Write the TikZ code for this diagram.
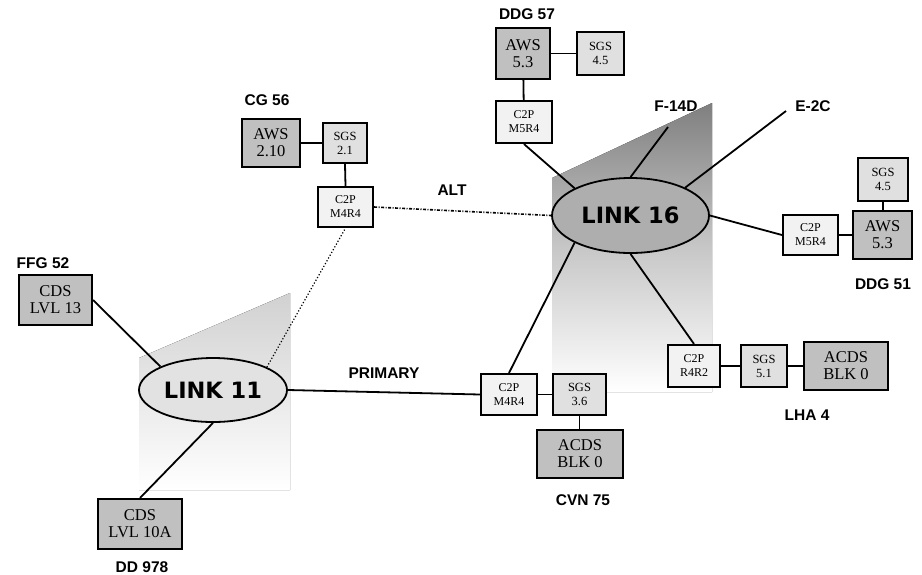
\documentclass[tikz,border=0pt]{standalone}
\usepackage{fontspec}
\setmainfont{Liberation Serif}
\newfontfamily\labelfont{Liberation Sans}
\newfontfamily\linkfont{DejaVu Sans}
\usetikzlibrary{shapes.geometric}
\definecolor{unitfill}{HTML}{C0C0C0}
\definecolor{sgsfill}{HTML}{E0E0E0}
\definecolor{cpfill}{HTML}{F2F2F2}
\definecolor{netdark}{HTML}{AEAEAE}
\definecolor{netlight}{HTML}{E2E2E2}
\tikzset{
  box/.style={draw, line width=2.1pt, inner sep=0pt, align=center},
  unit/.style={box, fill=unitfill, font=\fontsize{16.5}{17}\selectfont},
  sgs/.style={box, fill=sgsfill, font=\fontsize{12.5}{14}\selectfont},
  cpbox/.style={box, fill=cpfill, font=\fontsize{12}{14}\selectfont},
  net/.style={ellipse, draw, line width=1.8pt, inner sep=0pt,
    font=\linkfont\bfseries\fontsize{22.5}{24}\selectfont},
  tag/.style={font=\labelfont\bfseries\fontsize{15.5}{17}\selectfont, inner sep=0pt},
  wire/.style={line width=1.8pt},
}
\begin{document}
\begin{tikzpicture}[x=1pt, y=-1pt]
\useasboundingbox (0,0) rectangle (922,574);

% shaded backdrops behind the two networks
\fill[top color=black!50, bottom color=white, middle color=black!22]
  (552,178) -- (712,103) -- (712,392) -- (552,392) -- cycle;
\fill[top color=black!18, bottom color=white]
  (139,358) -- (290,293) -- (290,490) -- (139,490) -- cycle;

% networks
\node[net, fill=netdark, minimum width=157pt, minimum height=75pt] (l16) at (630.5,215.5) {LINK 16};
\node[net, fill=netlight, minimum width=148pt, minimum height=64pt] (l11) at (213,390) {LINK 11};

% DDG 57
\node[unit, minimum width=54pt, minimum height=51pt] (aws57) at (523,53.5) {AWS\\5.3};
\node[sgs, minimum width=47pt, minimum height=43pt] (sgs57) at (600.5,53.5) {SGS\\4.5};
\node[cpbox, minimum width=56pt, minimum height=42pt] (cp57) at (524,122) {C2P\\M5R4};
\node[tag] (t57) at (527,14) {DDG 57};

% CG 56
\node[unit, minimum width=58pt, minimum height=48pt] (aws56) at (271,143) {AWS\\2.10};
\node[sgs, minimum width=44pt, minimum height=40pt] (sgs56) at (345,143) {SGS\\2.1};
\node[cpbox, minimum width=55pt, minimum height=40pt] (cp56) at (345.5,207) {C2P\\M4R4};
\node[tag] (t56) at (267,100) {CG 56};

% DDG 51
\node[sgs, minimum width=50pt, minimum height=43pt] (sgs51) at (883,179.5) {SGS\\4.5};
\node[unit, minimum width=59pt, minimum height=48pt] (aws51) at (882.5,235) {AWS\\5.3};
\node[cpbox, minimum width=55pt, minimum height=40pt] (cp51) at (810.5,235) {C2P\\M5R4};
\node[tag] (t51) at (883,284) {DDG 51};

% LHA 4
\node[cpbox, minimum width=52pt, minimum height=42pt] (cp4) at (694,366) {C2P\\R4R2};
\node[sgs, minimum width=46pt, minimum height=42pt] (sgs4) at (764,366) {SGS\\5.1};
\node[unit, minimum width=84pt, minimum height=48pt] (acds4) at (846,366) {ACDS\\BLK 0};
\node[tag] (t4) at (807,415) {LHA 4};

% CVN 75
\node[cpbox, minimum width=56pt, minimum height=41pt] (cp75) at (509,394.5) {C2P\\M4R4};
\node[sgs, minimum width=53pt, minimum height=41pt] (sgs75) at (579.5,394.5) {SGS\\3.6};
\node[unit, minimum width=86pt, minimum height=48pt] (acds75) at (580,454) {ACDS\\BLK 0};
\node[tag] (t75) at (583,500) {CVN 75};

% FFG 52 and DD 978
\node[unit, minimum width=73pt, minimum height=50pt] (cds52) at (55.5,300) {CDS\\LVL 13};
\node[tag] (t52) at (43,263) {FFG 52};
\node[unit, minimum width=84pt, minimum height=50pt] (cds978) at (140,524) {CDS\\LVL 10A};
\node[tag] (t978) at (142,567) {DD 978};

% aircraft and link labels
\node[tag] (tf14) at (676,106) {F-14D};
\node[tag] (te2c) at (813,106) {E-2C};
\node[tag] (tprim) at (384,373) {PRIMARY};
\node[tag] (talt) at (452,190) {ALT};
\coordinate (f14) at (668,127);
\coordinate (e2c) at (786,111);

% connectors
\draw[wire] (aws57) -- (sgs57);
\draw[wire] (aws57) -- (cp57);
\draw[wire] (cp57.south) -- (l16.154);
\draw[wire] (l16.90) -- (f14);
\draw[wire] (l16.27) -- (e2c);
\draw[wire] (l16.east) -- (cp51.west);
\draw[wire] (cp51) -- (aws51);
\draw[wire] (sgs51.south) -- (sgs51.south |- aws51.north);
\draw[wire] (l16.south) -- (cp4.north);
\draw[wire] (cp4) -- (sgs4);
\draw[wire] (sgs4) -- (acds4);
\draw[wire] (l16.206) -- (cp75.north);
\draw[wire] (cp75) -- (sgs75);
\draw[wire] (sgs75.south) -- (sgs75.south |- acds75.north);
\draw[wire] (l11.east) -- (cp75.west);
\draw[wire] (cds52.east) -- (l11.156);
\draw[wire] (l11.south) -- (cds978.north);
\draw[wire] (aws56) -- (sgs56);
\draw[wire] (sgs56.south) -- (cp56.north);
\draw[line width=1.2pt, dotted] (l11.23) -- (cp56.south);
\draw[line width=1.6pt, dash pattern=on 3pt off 1.5pt on 1pt off 1.5pt] (cp56.east) -- (l16.west);
\end{tikzpicture}
\end{document}
